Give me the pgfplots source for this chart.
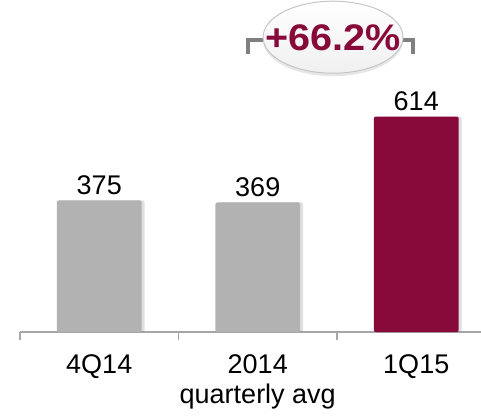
\documentclass[border=0pt]{standalone}
\usepackage{pgfplots}
\pgfplotsset{compat=1.18}
\usepackage{fontspec}
\setmainfont{Liberation Sans}
\usetikzlibrary{shadows}

\definecolor{bargray}{HTML}{B2B2B2}
\definecolor{barred}{HTML}{870A3A}
\definecolor{axisgray}{HTML}{A6A6A6}
\definecolor{brackgray}{HTML}{808080}

\begin{document}
\begin{tikzpicture}
\path[use as bounding box] (-20pt,-83pt) rectangle (461pt,332pt);
\begin{axis}[
    scale only axis,
    width=461pt, height=332pt,
    xmin=-0.5, xmax=2.4085,
    ymin=0, ymax=946,
    axis x line=bottom,
    axis y line=none,
    x axis line style={-, axisgray, line width=1.5pt},
    ybar, bar width=0.535, bar shift=0pt,
    xtick={0,1,2},
    xticklabels={4Q14, {2014\\quarterly avg}, 1Q15},
    major tick length=0pt,
    xticklabel style={align=center, font=\fontsize{27}{30}\selectfont, yshift=-19pt},
    extra x ticks={-0.5,0.5,1.5},
    extra x tick labels={},
    extra x tick style={major tick length=8pt, xtick align=outside,
        tick style={axisgray, line width=1.5pt}},
    nodes near coords,
    /pgf/number format/assume math mode=true,
    every node near coord/.append style={font=\fontsize{27}{30}\selectfont, black, yshift=2pt},
    clip=false,
]
\addplot[fill=bargray, draw=none, rounded corners=2pt,
    drop shadow={shadow xshift=3pt, shadow yshift=0pt, opacity=0.25}]
    coordinates {(0,375) (1,369)};
\addplot[fill=barred, draw=none, rounded corners=2pt,
    drop shadow={shadow xshift=3pt, shadow yshift=0pt, opacity=0.25}]
    coordinates {(2,614)};

% growth annotation
\draw[brackgray, line width=4.5pt]
    (axis cs:0.938,792) -- (axis cs:0.938,832) -- (axis cs:1.979,832) -- (axis cs:1.979,792);
\path[draw=gray!45, line width=1pt, top color=white, bottom color=gray!12,
    drop shadow={shadow xshift=0pt, shadow yshift=-3pt, opacity=0.2}]
    (axis cs:1.475,840) ellipse [x radius=70pt, y radius=36pt];
\node[text=barred, font=\fontsize{37}{40}\selectfont\bfseries, xscale=1.07] at (axis cs:1.475,838) {+66.2\%};
\end{axis}
\end{tikzpicture}
\end{document}
